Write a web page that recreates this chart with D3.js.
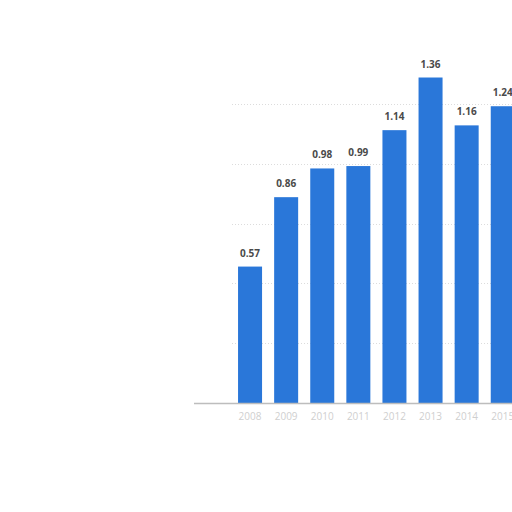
<!DOCTYPE html>
<html>
<head>
<meta charset="utf-8">
<script src="https://cdn.jsdelivr.net/npm/d3@7"></script>
<style>
  body { margin: 0; background: #fff; }
  .grid line { stroke: #dcdcdc; stroke-dasharray: 1,2; }
  .label { font-family: "Open Sans", Roboto, sans-serif; font-size: 10px; font-weight: bold; fill: #4a4a4a; }
  .year { font-family: "Open Sans", Roboto, sans-serif; font-size: 10px; fill: #cfcfcf; }
</style>
</head>
<body>
<div id="chart"></div>
<script>
// values
var years = ["2008", "2009", "2010", "2011", "2012", "2013", "2014", "2015"];
var values = [0.57, 0.86, 0.98, 0.99, 1.14, 1.36, 1.16, 1.24];
var gridTicks = [0.25, 0.5, 0.75, 1, 1.25];

var width = 512, height = 512;
var baseY = 403;

var svg = d3.select("#chart").append("svg")
    .attr("width", width)
    .attr("height", height);

var x = d3.scaleBand()
    .domain(years)
    .range([232, 520.8])
    .paddingInner(0.335)
    .paddingOuter(0.1675);

var y = d3.scaleLinear()
    .domain([0, 1.5])
    .range([baseY, 44]);

// dotted grid
svg.append("g").attr("class", "grid")
    .selectAll("line")
    .data(gridTicks)
    .enter().append("line")
    .attr("x1", 232)
    .attr("x2", width)
    .attr("y1", function(d) { return Math.round(y(d)) + 0.5; })
    .attr("y2", function(d) { return Math.round(y(d)) + 0.5; });

// bars
svg.append("g")
    .selectAll("rect")
    .data(values)
    .enter().append("rect")
    .attr("x", function(d, i) { return x(years[i]); })
    .attr("y", function(d) { return y(d); })
    .attr("width", x.bandwidth())
    .attr("height", function(d) { return baseY - y(d); })
    .attr("fill", "#2a77d9");

// value labels
svg.append("g")
    .selectAll("text")
    .data(values)
    .enter().append("text")
    .attr("class", "label")
    .attr("x", function(d, i) { return x(years[i]) + x.bandwidth() / 2; })
    .attr("y", function(d) { return y(d) - 10; })
    .attr("text-anchor", "middle")
    .text(function(d) { return d.toFixed(2); });

// baseline
svg.append("line")
    .attr("x1", 194).attr("x2", width)
    .attr("y1", baseY + 0.5).attr("y2", baseY + 0.5)
    .attr("stroke", "#bdbdbd")
    .attr("stroke-width", 1.5);

// year labels under the bars
svg.append("g")
    .selectAll("text")
    .data(years)
    .enter().append("text")
    .attr("class", "year")
    .attr("x", function(d) { return x(d) + x.bandwidth() / 2; })
    .attr("y", baseY + 17)
    .attr("text-anchor", "middle")
    .text(function(d) { return d; });
</script>
</body>
</html>
